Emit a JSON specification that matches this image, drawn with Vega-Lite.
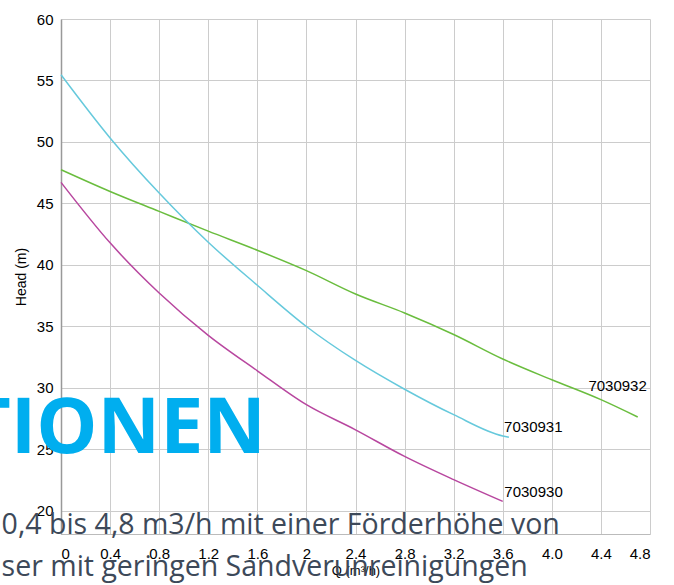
{
  "$schema": "https://vega.github.io/schema/vega-lite/v6.json",
  "width": 589,
  "height": 515,
  "autosize": "none",
  "padding": {"left": 61, "top": 19, "right": 24, "bottom": 51},
  "background": "white",
  "config": {"view": {"stroke": null}},
  "datasets": {
    "curves": [
      {"series": "7030932", "q": 0, "head": 47.75},
      {"series": "7030932", "q": 0.4, "head": 45.98},
      {"series": "7030932", "q": 0.8, "head": 44.36},
      {"series": "7030932", "q": 1.2, "head": 42.75},
      {"series": "7030932", "q": 1.6, "head": 41.2},
      {"series": "7030932", "q": 2.0, "head": 39.54},
      {"series": "7030932", "q": 2.4, "head": 37.64},
      {"series": "7030932", "q": 2.8, "head": 36.1},
      {"series": "7030932", "q": 3.2, "head": 34.35},
      {"series": "7030932", "q": 3.6, "head": 32.36},
      {"series": "7030932", "q": 4.0, "head": 30.67},
      {"series": "7030932", "q": 4.4, "head": 29.05},
      {"series": "7030932", "q": 4.7, "head": 27.64},
      {"series": "7030931", "q": 0, "head": 55.47},
      {"series": "7030931", "q": 0.4, "head": 50.33},
      {"series": "7030931", "q": 0.8, "head": 45.85},
      {"series": "7030931", "q": 1.2, "head": 41.85},
      {"series": "7030931", "q": 1.6, "head": 38.35},
      {"series": "7030931", "q": 2.0, "head": 35.0},
      {"series": "7030931", "q": 2.4, "head": 32.24},
      {"series": "7030931", "q": 2.8, "head": 29.9},
      {"series": "7030931", "q": 3.2, "head": 27.83},
      {"series": "7030931", "q": 3.6, "head": 26.1},
      {"series": "7030931", "q": 3.65, "head": 26.0},
      {"series": "7030930", "q": 0, "head": 46.72},
      {"series": "7030930", "q": 0.4, "head": 41.8},
      {"series": "7030930", "q": 0.8, "head": 37.72},
      {"series": "7030930", "q": 1.2, "head": 34.28},
      {"series": "7030930", "q": 1.6, "head": 31.4},
      {"series": "7030930", "q": 2.0, "head": 28.64},
      {"series": "7030930", "q": 2.4, "head": 26.6},
      {"series": "7030930", "q": 2.8, "head": 24.44},
      {"series": "7030930", "q": 3.2, "head": 22.55},
      {"series": "7030930", "q": 3.6, "head": 20.78}
    ],
    "labels": [
      {"series": "7030932", "q": 4.298, "head": 29.78},
      {"series": "7030931", "q": 3.611, "head": 26.44},
      {"series": "7030930", "q": 3.613, "head": 21.16}
    ]
  },
  "layer": [
    {
      "data": {"name": "curves"},
      "mark": {"type": "line", "interpolate": "monotone", "strokeWidth": 1.5},
      "encoding": {
        "x": {
          "field": "q",
          "type": "quantitative",
          "scale": {"domain": [0, 4.8], "nice": false, "zero": false},
          "axis": {
            "values": [0, 0.4, 0.8, 1.2, 1.6, 2, 2.4, 2.8, 3.2, 3.6, 4, 4.4, 4.8],
            "labelExpr": "datum.value === 0 ? '0' : datum.value === 2 ? '2' : format(datum.value, '.1f')",
            "title": "Q (m³/h)",
            "titleFont": "Liberation Sans",
            "titleFontSize": 13,
            "titleFontWeight": "normal",
            "titleColor": "#000000",
            "titlePadding": 3,
            "labelFont": "Liberation Sans",
            "labelFontSize": 15,
            "labelColor": "#000000",
            "labelPadding": 12,
            "ticks": false,
            "domainColor": "#bbbbbb",
            "domainWidth": 1,
            "gridColor": "#cccccc",
            "gridWidth": 1
          }
        },
        "y": {
          "field": "head",
          "type": "quantitative",
          "scale": {"domain": [18.13, 60], "nice": false, "zero": false},
          "axis": {
            "values": [20, 25, 30, 35, 40, 45, 50, 55, 60],
            "title": "Head (m)",
            "titleFont": "Liberation Sans",
            "titleFontSize": 14,
            "titleFontWeight": "normal",
            "titleColor": "#000000",
            "titlePadding": 8,
            "labelFont": "Liberation Sans",
            "labelFontSize": 15,
            "labelColor": "#000000",
            "labelPadding": 8,
            "ticks": false,
            "domainColor": "#999999",
            "domainWidth": 1.5,
            "gridColor": "#cccccc",
            "gridWidth": 1
          }
        },
        "color": {
          "field": "series",
          "type": "nominal",
          "scale": {"domain": ["7030930", "7030931", "7030932"], "range": ["#b8479f", "#66c9dc", "#6abd3e"]},
          "legend": null
        }
      }
    },
    {
      "data": {"name": "labels"},
      "mark": {"type": "text", "align": "left", "baseline": "alphabetic", "font": "Liberation Sans", "fontSize": 15, "color": "#000000"},
      "encoding": {
        "x": {"field": "q", "type": "quantitative"},
        "y": {"field": "head", "type": "quantitative"},
        "text": {"field": "series"}
      }
    },
    {
      "data": {"values": [{"t": "TIONEN"}]},
      "mark": {"type": "text", "align": "right", "baseline": "alphabetic", "font": "Open Sans", "fontWeight": "bold", "fontSize": 77, "color": "#00aeef"},
      "encoding": {
        "x": {"datum": 1.67, "type": "quantitative"},
        "y": {"datum": 24.71, "type": "quantitative"},
        "text": {"field": "t"}
      }
    },
    {
      "data": {"values": [{"t": "0,4 bis 4,8 m3/h mit einer Förderhöhe von"}]},
      "mark": {"type": "text", "align": "left", "baseline": "alphabetic", "font": "Open Sans", "fontSize": 28.5, "color": "#3d4959"},
      "encoding": {
        "x": {"datum": -0.484, "type": "quantitative"},
        "y": {"datum": 18.1, "type": "quantitative"},
        "text": {"field": "t"}
      }
    },
    {
      "data": {"values": [{"t": "ser mit geringen Sandverunreinigungen"}]},
      "mark": {"type": "text", "align": "left", "baseline": "alphabetic", "font": "Open Sans", "fontSize": 28.5, "color": "#3d4959"},
      "encoding": {
        "x": {"datum": -0.484, "type": "quantitative"},
        "y": {"datum": 14.7, "type": "quantitative"},
        "text": {"field": "t"}
      }
    }
  ]
}
